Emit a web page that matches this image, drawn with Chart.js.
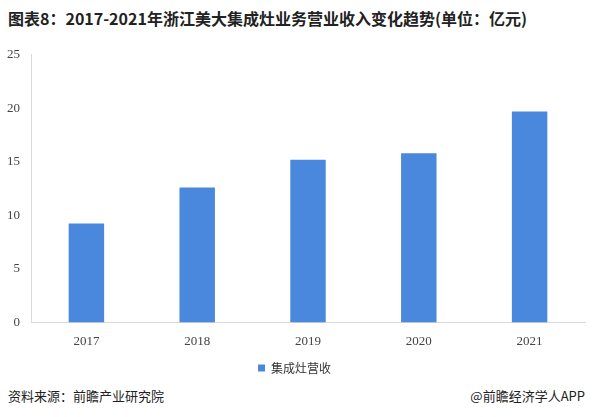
<!DOCTYPE html><html><head><meta charset="utf-8">
<script src="https://cdn.jsdelivr.net/npm/chart.js@4"></script>
<style>body{margin:0;background:#fff;width:593px;height:417px;position:relative;overflow:hidden;font-family:"Noto Sans CJK SC"}
#t{position:absolute;left:8px;top:6px;font-size:16px;font-weight:bold;color:#222}
#s{position:absolute;left:8px;top:386px;font-size:13px;color:#222}
#r{position:absolute;right:8px;top:386px;font-size:13px;color:#222}
#c{position:absolute;left:0;top:44px;width:593px;height:340px}</style></head><body>
<div id="t">图表8：2017-2021年浙江美大集成灶业务营业收入变化趋势(单位：亿元)</div>
<div id="c"><canvas id="cv"></canvas></div>
<div id="s">资料来源：前瞻产业研究院</div>
<div id="r">@前瞻经济学人APP</div>
<script>
const categories=["2017","2018","2019","2020","2021"];
const revenue=[9.25,12.6,15.2,15.8,19.7];
const yTicks=[0,5,10,15,20,25];
new Chart(document.getElementById('cv'),{type:'bar',
data:{labels:categories,datasets:[{label:'集成灶营收',data:revenue,backgroundColor:'#4a88dd',barPercentage:0.64,categoryPercentage:0.5}]},
options:{responsive:true,maintainAspectRatio:false,animation:false,
layout:{padding:{left:4,right:8,top:0,bottom:0}},
plugins:{legend:{position:'bottom',labels:{boxWidth:7,boxHeight:7,font:{size:12,family:'Noto Sans CJK SC'},color:'#333'}},tooltip:{enabled:false}},
scales:{x:{grid:{display:false},border:{color:'#d9d9d9'},ticks:{color:'#444',font:{size:13,family:'Liberation Serif'}}},
y:{min:0,max:25,afterBuildTicks:a=>{a.ticks=yTicks.map(v=>({value:v}))},grid:{display:false},border:{color:'#d9d9d9'},ticks:{color:'#444',font:{size:13,family:'Liberation Serif'}}}}}});
</script></body></html>
